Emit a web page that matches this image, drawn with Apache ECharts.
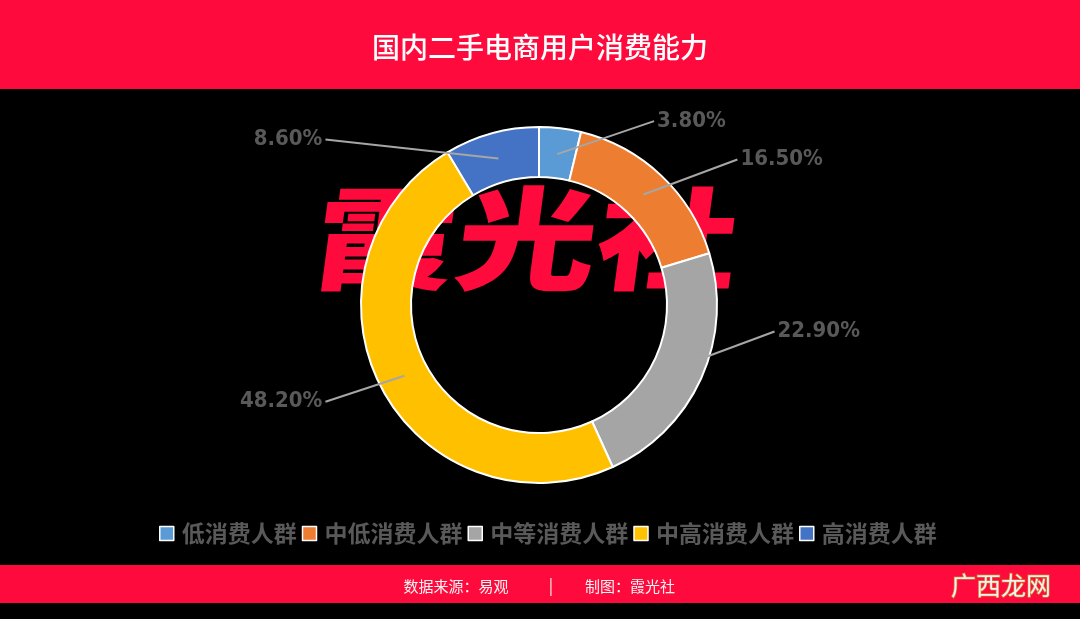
<!DOCTYPE html>
<html>
<head>
<meta charset="utf-8">
<script src="https://cdn.jsdelivr.net/npm/echarts@6/dist/echarts.min.js"></script>
<style>
html,body{margin:0;padding:0;background:#000;}
#c{width:1080px;height:619px;}
</style>
</head>
<body>
<div id="c"></div>
<script>
const categories = ['低消费人群', '中低消费人群', '中等消费人群', '中高消费人群', '高消费人群'];
const values = [3.8, 16.5, 22.9, 48.2, 8.6];
const colors = ['#5B9BD5', '#ED7D31', '#A5A5A5', '#FFC000', '#4472C4'];

// label placement offsets relative to the leader-line start (layout only)
const labelOffsets = [[100, -33], [97, -35], [100, -36], [-82, 26], [-176, -19]];

const RED = '#ff0a3c';
const FONT = '"Noto Sans CJK SC", "Noto Sans", sans-serif';
const NUMFONT = '"DejaVu Sans Condensed", "Noto Sans", sans-serif';

const chart = echarts.init(document.getElementById('c'), null, {renderer: 'canvas'});

const mainData = categories.map((n, i) => ({name: n, value: values[i], itemStyle: {color: colors[i]}}));
const labelData = categories.map((n, i) => ({name: n, value: values[i]}));

chart.setOption({
  backgroundColor: '#000',
  animation: false,
  title: {
    text: '国内二手电商用户消费能力',
    left: 'center',
    top: 28,
    textStyle: {color: '#ffffff', fontSize: 28, fontWeight: 500, fontFamily: FONT}
  },
  legend: {
    data: categories,
    left: 154,
    top: 517,
    icon: 'rect',
    itemWidth: 14,
    itemHeight: 14,
    itemGap: 5,
    itemStyle: {borderColor: '#ffffff', borderWidth: 1.5},
    textStyle: {color: '#595959', fontSize: 23, fontWeight: 'bold', fontFamily: FONT, padding: [0, 0, 0, 3]}
  },
  graphic: [
    {type: 'rect', z: -10, shape: {x: 0, y: 0, width: 1080, height: 89}, style: {fill: RED}},
    {type: 'rect', z: -10, shape: {x: 0, y: 565, width: 1080, height: 38}, style: {fill: RED}},
    {type: 'text', z: -5, x: 514, y: 238, scaleX: 1.26, skewX: 0.18,
      style: {text: '霞光社', fill: RED, font: 'italic 900 112px ' + FONT, textAlign: 'center', textVerticalAlign: 'middle'}},
    {type: 'text', z: 5, x: 456, y: 586,
      style: {text: '数据来源：易观', fill: '#f4f4f4', font: '15px ' + FONT, textAlign: 'center', textVerticalAlign: 'middle'}},
    {type: 'text', z: 5, x: 551, y: 585,
      style: {text: '|', fill: '#f4f4f4', font: '16px ' + FONT, textAlign: 'center', textVerticalAlign: 'middle'}},
    {type: 'text', z: 5, x: 630, y: 586,
      style: {text: '制图：霞光社', fill: '#f4f4f4', font: '15px ' + FONT, textAlign: 'center', textVerticalAlign: 'middle'}},
    {type: 'text', z: 5, x: 1001, y: 585,
      style: {text: '广西龙网', fill: '#f2f2f2', stroke: '#d9702a', lineWidth: 1.5, font: '25px ' + FONT, textAlign: 'center', textVerticalAlign: 'middle'}}
  ],
  series: [
    {
      type: 'pie',
      name: 'main',
      center: [539, 305],
      radius: [128, 178],
      startAngle: 90,
      clockwise: true,
      silent: true,
      itemStyle: {borderColor: '#ffffff', borderWidth: 2},
      label: {show: false},
      labelLine: {show: false},
      emphasis: {disabled: true},
      data: mainData
    },
    {
      type: 'pie',
      name: 'labels',
      center: [539, 305],
      radius: [0, 152],
      startAngle: 90,
      clockwise: true,
      silent: true,
      z: 3,
      avoidLabelOverlap: false,
      itemStyle: {color: 'rgba(0,0,0,0)', borderWidth: 0},
      emphasis: {disabled: true},
      label: {
        show: true,
        position: 'outside',
        color: '#595959',
        fontSize: 22,
        fontWeight: 'bold',
        fontFamily: NUMFONT,
        formatter: p => p.value.toFixed(2) + '%'
      },
      labelLine: {show: true, length: 20, length2: 20, lineStyle: {color: '#a6a6a6', width: 2}},
      labelLayout: function (params) {
        const p1 = params.labelLinePoints ? params.labelLinePoints[0] : null;
        if (!p1) return {};
        const off = labelOffsets[params.dataIndex];
        const x = p1[0] + off[0];
        const y = p1[1] + off[1];
        const sign = off[0] > 0 ? 1 : -1;
        const end = [x - sign * 3, y];
        const mid = [(p1[0] + end[0]) / 2, (p1[1] + end[1]) / 2];
        return {
          x: x,
          y: y,
          align: off[0] > 0 ? 'left' : 'right',
          verticalAlign: 'middle',
          labelLinePoints: [p1, mid, end]
        };
      },
      data: labelData
    }
  ]
});
</script>
</body>
</html>
